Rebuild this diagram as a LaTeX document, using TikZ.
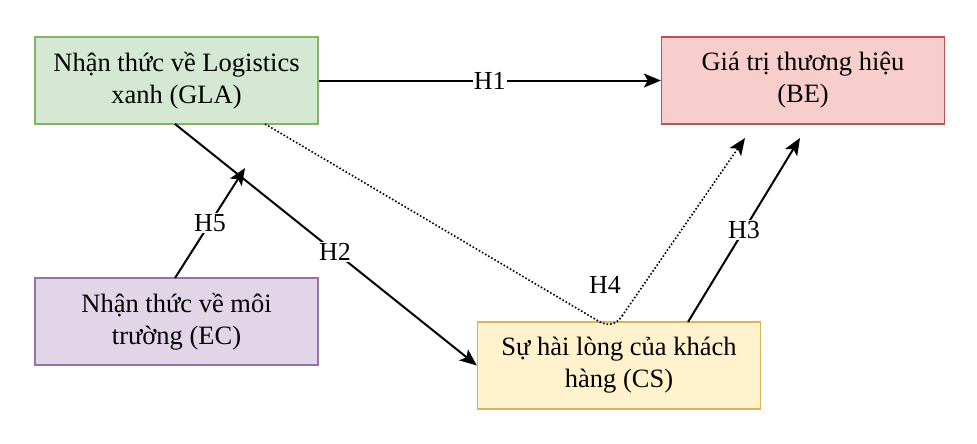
\documentclass[tikz,border=0pt]{standalone}
\usepackage{fontspec}
\setmainfont{Liberation Serif}
\usetikzlibrary{arrows.meta}
\begin{document}
\begin{tikzpicture}[x=1pt,y=-1pt,
 box/.style={draw, line width=1.3pt, minimum width=283pt, minimum height=87pt, align=center, font=\fontsize{26.5}{32}\selectfont, inner sep=0pt},
 arr/.style={line width=2pt, -{Stealth[length=17pt,width=14pt,inset=4pt]}},
 lab/.style={fill=white, font=\fontsize{26}{30}\selectfont, inner sep=1pt}]
\useasboundingbox (0,0) rectangle (977,444);
\node[box, fill={rgb,255:red,213;green,232;blue,212}, draw={rgb,255:red,130;green,179;blue,102}] (gla) at (176.5,80.5) {Nhận thức về Logistics\\xanh (GLA)};
\node[box, fill={rgb,255:red,248;green,206;blue,204}, draw={rgb,255:red,184;green,84;blue,80}] (be) at (803,80.5) {Giá trị thương hiệu\\(BE)};
\node[box, fill={rgb,255:red,225;green,213;blue,231}, draw={rgb,255:red,150;green,115;blue,166}] (ec) at (176.5,321.5) {Nhận thức về môi\\trường (EC)};
\node[box, fill={rgb,255:red,255;green,242;blue,204}, draw={rgb,255:red,214;green,182;blue,86}] (cs) at (619,365.5) {Sự hài lòng của khách\\hàng (CS)};
\coordinate (h5e) at (245,168);
\coordinate (h4e) at (745,138);
\coordinate (h3e) at (800,138);
\draw[arr] (gla.east) -- node[lab]{H1} (be.west);
\draw[arr] (175,124) -- node[lab,pos=0.53]{H2} (cs.west);
\draw[arr] (175,278) -- node[lab]{H5} (h5e);
\draw[line width=1.6pt, dotted] (265,124) -- (600,322) .. controls (608,326) and (616,325) .. (622,316);
\draw[line width=1.6pt, dotted, -{Stealth[length=17pt,width=14pt,inset=4pt]}] (622,316) -- (h4e);
\node[lab, fill=none] at (605,285) {H4};
\draw[arr] (688,322) -- node[lab]{H3} (h3e);
\end{tikzpicture}
\end{document}
